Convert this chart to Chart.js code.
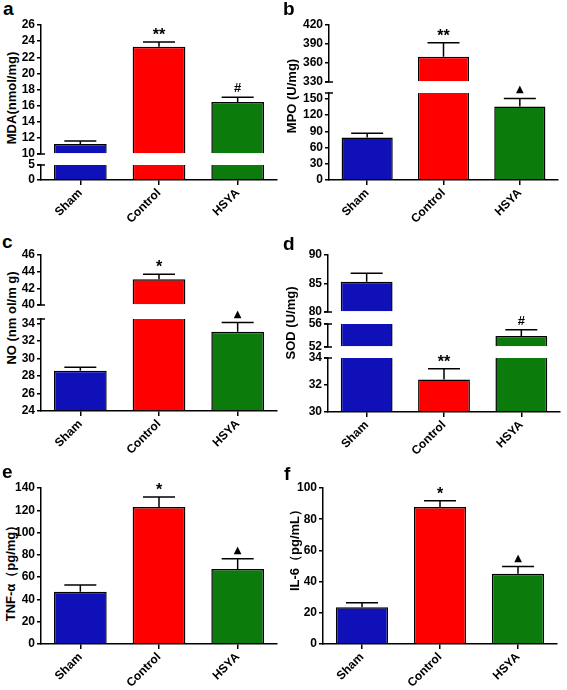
<!DOCTYPE html>
<html>
<head>
<meta charset="utf-8">
<script src="https://cdn.jsdelivr.net/npm/chart.js@4.4.0/dist/chart.umd.min.js"></script>
<style>
  body { margin: 0; background: #fff; }
  #fig { position: relative; width: 567px; height: 690px; background: #fff; font-family: Arial, "Liberation Sans", sans-serif; }
  #fig canvas { position: absolute; }
  .tag { position: absolute; font-weight: bold; font-size: 19px; line-height: 1; }
  .ytitle { position: absolute; font-weight: bold; font-size: 13px; white-space: nowrap; transform: translate(-50%, -50%) rotate(-90deg); }
</style>
</head>
<body>
<div id="fig"></div>
<script>
// groups on the x axis
const groups = ["Sham", "Control", "HSYA"];

// means, SEM, significance marks, axis segments [min, max, step] top to bottom
const mda = [11.25, 23.3, 16.45];
const mdaSem = [0.35, 0.6, 0.6];
const mdaMarks = ["", "**", "#"];
const mdaAxis = [[10, 26, 2], [0, 5, 5]];

const mpo = [78.5, 370, 136];
const mpoSem = [8, 22, 15];
const mpoMarks = ["", "**", "▲"];
const mpoAxis = [[330, 420, 30], [0, 161, 30]];

const no = [28.6, 43.1, 33.05];
const noSem = [0.4, 0.6, 1.05];
const noMarks = ["", "*", "▲"];
const noAxis = [[40, 46, 2], [24, 34.5, 2]];

const sod = [85.3, 32.4, 53.9];
const sodSem = [1.5, 0.8, 1.1];
const sodMarks = ["", "**", "#"];
const sodAxis = [[80, 90, 5], [52, 56, 4], [30, 34, 2]];

const tnf = [46.8, 123, 67.4];
const tnfSem = [6.2, 9, 9];
const tnfMarks = ["", "*", "▲"];
const tnfAxis = [[0, 140, 20]];

const il6 = [23.6, 87.8, 45];
const il6Sem = [2.9, 4, 4.6];
const il6Marks = ["", "*", "▲"];
const il6Axis = [[0, 100, 20]];

const barColors = ["#1010b8", "#ff0000", "#0b7b0b"];
const tickFont = { family: 'Arial, "Liberation Sans", sans-serif', size: 12, weight: "bold" };
const markStyle = {
  "*": { font: 'bold 16px Arial, "Liberation Sans", sans-serif', lift: 2 },
  "**": { font: 'bold 16px Arial, "Liberation Sans", sans-serif', lift: 2 },
  "#": { font: 'bold 13px Arial, "Liberation Sans", sans-serif', lift: 5 },
  "▲": { font: '10px "DejaVu Sans", sans-serif', lift: 6 }
};

const H = 230;
const panels = [
  { tag: "a", title: "MDA(nmol/mg)", values: mda, sem: mdaSem, marks: mdaMarks, axis: mdaAxis,
    x: 0, y: 0, w: 283, left: 41, right: 277, segs: [[25, 154], [165, 180]], tx: 11, ty: 98, lx: 3, ly: -1 },
  { tag: "b", title: "MPO (U/mg)", values: mpo, sem: mpoSem, marks: mpoMarks, axis: mpoAxis,
    x: 283, y: 0, w: 284, left: 46, right: 275, segs: [[25, 82], [93, 180]], tx: 8, ty: 96, lx: 0, ly: -1 },
  { tag: "c", title: "NO (nm ol/m g)", values: no, sem: noSem, marks: noMarks, axis: noAxis,
    x: 0, y: 230, w: 283, left: 41, right: 277, segs: [[25, 75], [89, 181]], tx: 11, ty: 88, lx: 2, ly: 2 },
  { tag: "d", title: "SOD (U/mg)", values: sod, sem: sodSem, marks: sodMarks, axis: sodAxis,
    x: 283, y: 230, w: 284, left: 45, right: 277, segs: [[25, 82], [94, 117], [128, 182]], tx: 7, ty: 93, lx: 0, ly: 4 },
  { tag: "e", title: "TNF-α（pg/mg）", values: tnf, sem: tnfSem, marks: tnfMarks, axis: tnfAxis,
    x: 0, y: 460, w: 283, left: 41, right: 277, segs: [[28, 184]], tx: 11, ty: 110, lx: 2, ly: 2 },
  { tag: "f", title: "IL-6（pg/mL）", values: il6, sem: il6Sem, marks: il6Marks, axis: il6Axis,
    x: 283, y: 460, w: 284, left: 40, right: 274, segs: [[28, 184]], tx: 12, ty: 87, lx: 1, ly: 4 }
];

// error bars, marks and the little break caps
function makeExtras(p, si) {
  const last = si === p.axis.length - 1;
  return {
    id: "extras",
    afterDatasetsDraw(chart) {
      const { ctx, chartArea } = chart;
      const y = chart.scales.y;
      const meta = chart.getDatasetMeta(0);
      ctx.save();
      ctx.strokeStyle = "#000";
      ctx.fillStyle = "#000";
      ctx.lineWidth = 1.5;
      p.values.forEach((v, i) => {
        if (v < y.min || v > y.max) return;
        const x = meta.data[i].x;
        const y0 = y.getPixelForValue(v);
        const y1 = y.getPixelForValue(v + p.sem[i]);
        ctx.beginPath();
        ctx.moveTo(x, y0);
        ctx.lineTo(x, y1);
        ctx.moveTo(x - 16, y1);
        ctx.lineTo(x + 16, y1);
        ctx.stroke();
        const mark = p.marks[i];
        if (mark) {
          const st = markStyle[mark];
          ctx.font = st.font;
          ctx.textAlign = "center";
          ctx.textBaseline = "alphabetic";
          ctx.fillText(mark, x, y1 - st.lift);
        }
      });
      ctx.beginPath();
      if (si > 0) {
        ctx.moveTo(chartArea.left - 4, chartArea.top);
        ctx.lineTo(chartArea.left + 4, chartArea.top);
      }
      if (!last) {
        ctx.moveTo(chartArea.left - 4, chartArea.bottom);
        ctx.lineTo(chartArea.left + 4, chartArea.bottom);
      }
      ctx.stroke();
      ctx.restore();
    }
  };
}

const fig = document.getElementById("fig");

panels.forEach(p => {
  const tag = document.createElement("div");
  tag.className = "tag";
  tag.textContent = p.tag;
  tag.style.left = (p.x + p.lx) + "px";
  tag.style.top = (p.y + p.ly) + "px";
  fig.appendChild(tag);

  const title = document.createElement("div");
  title.className = "ytitle";
  title.textContent = p.title;
  title.style.left = (p.x + p.tx) + "px";
  title.style.top = (p.y + p.ty) + "px";
  fig.appendChild(title);

  p.axis.forEach((ax, si) => {
    const [min, max, step] = ax;
    const [top, bottom] = p.segs[si];
    const last = si === p.axis.length - 1;
    const canvas = document.createElement("canvas");
    canvas.width = p.w;
    canvas.height = H;
    canvas.style.left = p.x + "px";
    canvas.style.top = p.y + "px";
    fig.appendChild(canvas);

    const xScale = {
      display: last,
      grid: { offset: false, drawOnChartArea: false, tickLength: 5, color: "#000", lineWidth: 1.5 },
      border: { color: "#000", width: 1.5 },
      ticks: { font: tickFont, color: "#000", minRotation: 45, maxRotation: 45, padding: 1 }
    };
    if (last) {
      xScale.afterFit = s => {
        s.height = H - bottom;
        s.paddingLeft = 0;
        s.paddingRight = 0;
      };
    }

    new Chart(canvas, {
      type: "bar",
      data: {
        labels: groups,
        datasets: [{
          data: p.values.map(v => (v > min ? v : null)),
          backgroundColor: barColors,
          borderColor: "#000",
          borderWidth: 1.5,
          borderSkipped: "start",
          base: min,
          clip: 0,
          barPercentage: 0.67,
          categoryPercentage: 1
        }]
      },
      options: {
        responsive: false,
        animation: false,
        layout: { padding: { top: top, bottom: last ? 0 : H - bottom, left: 0, right: p.w - p.right } },
        plugins: { legend: { display: false }, tooltip: { enabled: false } },
        scales: {
          x: xScale,
          y: {
            min: min,
            max: max,
            ticks: { stepSize: step, autoSkip: false, includeBounds: false, font: tickFont, color: "#000", padding: 2 },
            grid: { drawOnChartArea: false, tickLength: 4, color: "#000", lineWidth: 1.5 },
            border: { color: "#000", width: 1.5 },
            afterFit: s => { s.width = p.left; }
          }
        }
      },
      plugins: [makeExtras(p, si)]
    });
  });
});
</script>
</body>
</html>
